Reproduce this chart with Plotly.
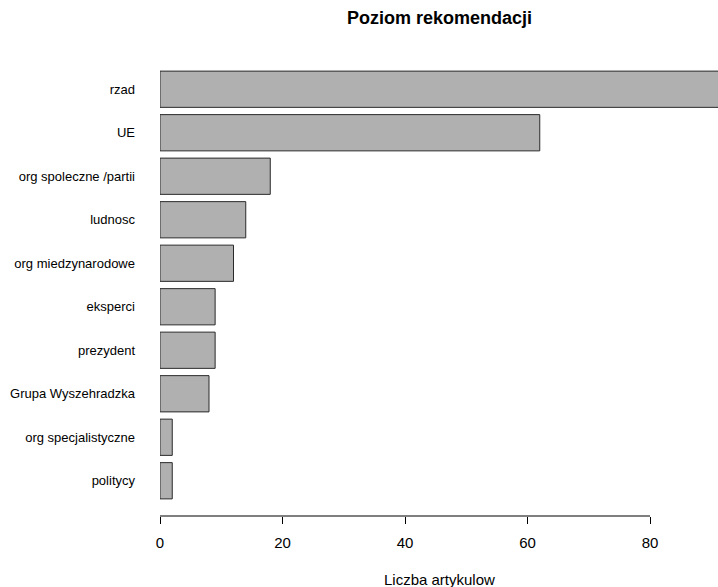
import plotly.graph_objects as go

categories = ["politycy", "org specjalistyczne", "Grupa Wyszehradzka", "prezydent",
              "eksperci", "org miedzynarodowe", "ludnosc", "org spoleczne /partii", "UE", "rzad"]
values = [2, 2, 8, 9, 9, 12, 14, 18, 62, 95]
x_ticks = [0, 20, 40, 60, 80]

idx = list(range(len(categories)))

fig = go.Figure(go.Bar(
    x=values, y=idx, orientation="h", width=0.833,
    marker=dict(color="#b0b0b0", line=dict(color="#2a2a2a", width=1)),
    hoverinfo="x+text", text=categories, textposition="none",
))

fig.add_shape(type="line", xref="x", yref="paper", x0=0, x1=80, y0=0, y1=0,
              line=dict(color="#000", width=1))

fig.update_layout(
    width=718, height=587,
    margin=dict(l=160, r=0, t=54, b=71),
    paper_bgcolor="white", plot_bgcolor="white",
    font=dict(family="Liberation Sans, Arial, sans-serif", color="#000"),
    showlegend=False,
    xaxis=dict(range=[0, 91.1], tickvals=x_ticks, ticktext=[str(t) for t in x_ticks],
               ticks="outside", ticklen=7, tickcolor="#000", tickwidth=1,
               showgrid=False, zeroline=False, showline=False,
               tickfont=dict(size=15), ticklabelstandoff=6),
    yaxis=dict(range=[-0.81, 9.81], tickvals=idx, ticktext=categories,
               showgrid=False, zeroline=False, showline=False, ticks="",
               tickfont=dict(size=13), ticklabelstandoff=24),
    annotations=[
        dict(text="<b>Poziom rekomendacji</b>", xref="paper", yref="paper",
             x=0.5, y=1, yshift=36, xanchor="center", yanchor="middle",
             showarrow=False, font=dict(size=18)),
        dict(text="Liczba artykulow", xref="paper", yref="paper",
             x=0.5, y=0, yshift=-63, xanchor="center", yanchor="middle",
             showarrow=False, font=dict(size=15)),
    ],
)

fig.write_html("out.html", config={"displayModeBar": False},
               post_script="document.body.style.margin='0';document.body.style.overflow='hidden';")
